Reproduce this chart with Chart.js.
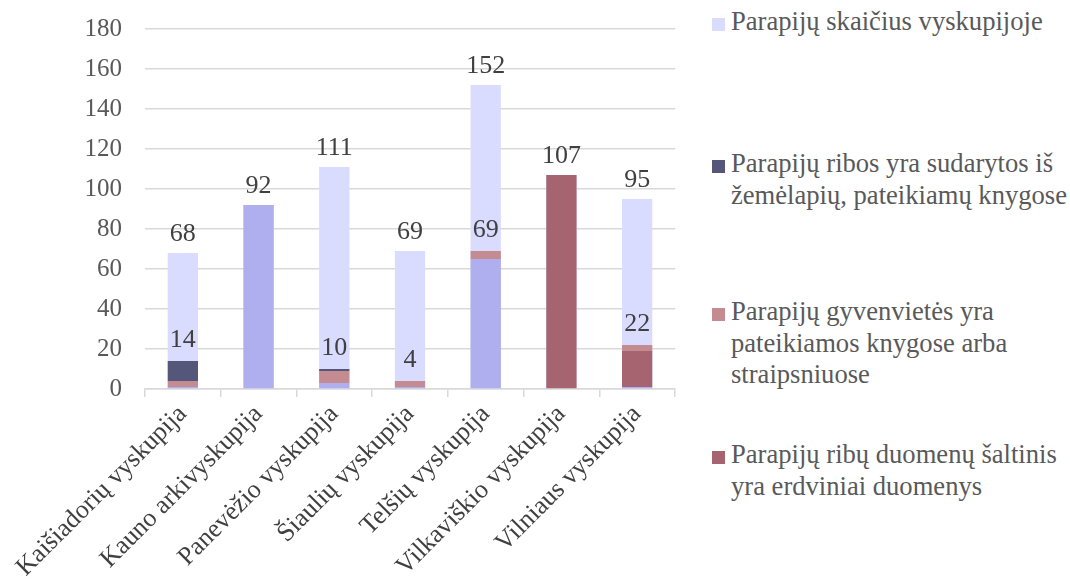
<!DOCTYPE html>
<html>
<head>
<meta charset="utf-8">
<script src="https://cdn.jsdelivr.net/npm/chart.js@4"></script>
<style>
  body { margin: 0; background: #fff; }
  #wrap { position: relative; width: 1070px; height: 584px; }
  #plot { position: absolute; left: 0; top: 0; width: 690px; height: 584px; }
  #legenda { position: absolute; left: 712px; top: 0; width: 358px; font-family: "Liberation Serif", serif; font-size: 26.6px; color: #595959; line-height: 31.5px; white-space: nowrap; }
  .irasas { position: absolute; left: 0; padding-left: 19px; }
  .irasas i { position: absolute; left: 0; top: 12px; width: 13px; height: 13px; }
</style>
</head>
<body>
<div id="wrap">
  <div id="plot"><canvas id="grafikas"></canvas></div>
  <div id="legenda"></div>
</div>
<script>
const kategorijos = ["Kaišiadorių vyskupija", "Kauno arkivyskupija", "Panevėžio vyskupija", "Šiaulių vyskupija", "Telšių vyskupija", "Vilkaviškio vyskupija", "Vilniaus vyskupija"];
const skaicius = [68, 92, 111, 69, 152, 107, 95];
const kitos = [1, 92, 3, 1, 65, 0, 1];
const erdviniai = [0, 0, 0, 0, 0, 107, 18];
const gyvenvietes = [3, 0, 6, 3, 4, 0, 3];
const zemelapiai = [10, 0, 1, 0, 0, 0, 0];

const SPALVOS = {
  skaicius: "#d9dbff",
  kitos: "#afaeee",
  zemelapiai: "#55577a",
  gyvenvietes: "#c48c90",
  erdviniai: "#a5646f"
};

const legendosIrasai = [
  { tekstas: "Parapijų skaičius vyskupijoje", spalva: SPALVOS.skaicius, top: 6 },
  { tekstas: "Parapijų ribos yra sudarytos iš<br>žemėlapių, pateikiamų knygose", spalva: SPALVOS.zemelapiai, top: 148 },
  { tekstas: "Parapijų gyvenvietės yra<br>pateikiamos knygose arba<br>straipsniuose", spalva: SPALVOS.gyvenvietes, top: 296 },
  { tekstas: "Parapijų ribų duomenų šaltinis<br>yra erdviniai duomenys", spalva: SPALVOS.erdviniai, top: 439 }
];

let legendaHTML = "";
legendosIrasai.forEach((irasas) => {
  legendaHTML += `<div class="irasas" style="top:${irasas.top}px"><i style="background:${irasas.spalva}"></i>${irasas.tekstas}</div>`;
});
document.getElementById("legenda").innerHTML = legendaHTML;

const sriftas = "'Liberation Serif', 'Times New Roman', serif";

// skaičiai virš stulpelių: viso ir žinomų dalių suma
const reiksmiuZymes = {
  id: "reiksmiuZymes",
  afterDatasetsDraw(chart) {
    const ctx = chart.ctx;
    const y = chart.scales.y;
    const x = chart.scales.x;
    ctx.save();
    ctx.font = "26px " + sriftas;
    ctx.fillStyle = "#404040";
    ctx.textAlign = "center";
    ctx.textBaseline = "alphabetic";
    kategorijos.forEach((k, i) => {
      const cx = x.getPixelForValue(i);
      ctx.fillText(String(skaicius[i]), cx, y.getPixelForValue(skaicius[i]) - 12);
      const suma = kitos[i] + erdviniai[i] + gyvenvietes[i] + zemelapiai[i];
      if (suma > 0 && suma < skaicius[i]) {
        ctx.fillText(String(suma), cx, y.getPixelForValue(suma) - 14);
      }
    });
    ctx.restore();
  }
};

const bendra = { stack: "dalys", grouped: false, borderWidth: 0, barPercentage: 0.4, categoryPercentage: 1 };

new Chart(document.getElementById("grafikas"), {
  type: "bar",
  data: {
    labels: kategorijos,
    datasets: [
      Object.assign({}, bendra, { label: "Parapijų skaičius vyskupijoje", data: skaicius, backgroundColor: SPALVOS.skaicius, stack: "viso", order: 1 }),
      Object.assign({}, bendra, { label: "Kitos", data: kitos, backgroundColor: SPALVOS.kitos }),
      Object.assign({}, bendra, { label: "Parapijų ribų duomenų šaltinis yra erdviniai duomenys", data: erdviniai, backgroundColor: SPALVOS.erdviniai }),
      Object.assign({}, bendra, { label: "Parapijų gyvenvietės yra pateikiamos knygose arba straipsniuose", data: gyvenvietes, backgroundColor: SPALVOS.gyvenvietes }),
      Object.assign({}, bendra, { label: "Parapijų ribos yra sudarytos iš žemėlapių, pateikiamų knygose", data: zemelapiai, backgroundColor: SPALVOS.zemelapiai })
    ]
  },
  options: {
    responsive: true,
    maintainAspectRatio: false,
    animation: false,
    layout: { padding: { left: 0, right: 15, top: 29, bottom: 0 } },
    plugins: {
      legend: { display: false },
      tooltip: { enabled: false }
    },
    scales: {
      x: {
        stacked: true,
        border: { color: "#d9d9d9", width: 1.5 },
        grid: { drawOnChartArea: false, color: "#d9d9d9", tickLength: 8, lineWidth: 1.5 },
        ticks: { font: { family: sriftas, size: 26 }, color: "#404040", maxRotation: 45, minRotation: 45, padding: 2 },
        afterFit(scale) { scale.height = 195; }
      },
      y: {
        stacked: true,
        min: 0,
        max: 180,
        border: { display: false },
        grid: { color: "#d9d9d9", drawTicks: false, lineWidth: 1.5 },
        ticks: { stepSize: 20, font: { family: sriftas, size: 25 }, color: "#595959", padding: 23 },
        afterFit(scale) {
          scale.width = 145;
          scale.paddingTop = 0;
          scale.paddingBottom = 0;
        }
      }
    }
  },
  plugins: [reiksmiuZymes]
});
</script>
</body>
</html>
